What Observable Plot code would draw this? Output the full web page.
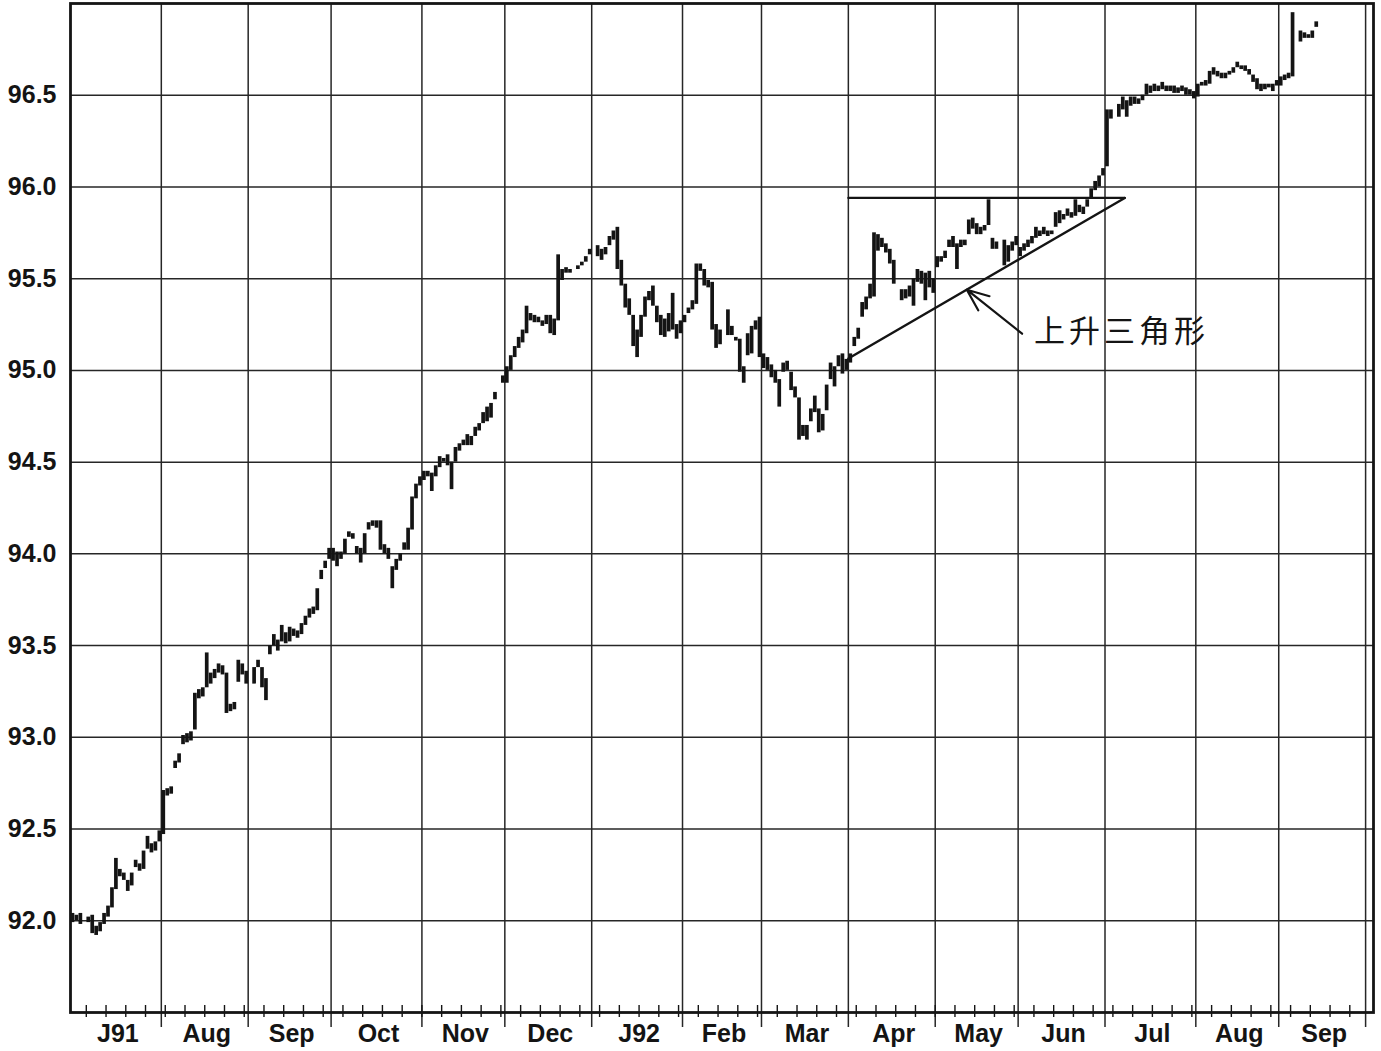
<!DOCTYPE html>
<html><head><meta charset="utf-8">
<script src="https://cdn.jsdelivr.net/npm/d3@7"></script>
<script src="https://cdn.jsdelivr.net/npm/@observablehq/plot@0.6"></script>
<style>
html,body{margin:0;padding:0;background:#fff;}
#chart svg{display:block;}
</style></head><body><div id="chart"></div>
<script>
// ---- categories / ticks ----
const months = ["1991-07","1991-08","1991-09","1991-10","1991-11","1991-12","1992-01","1992-02","1992-03","1992-04","1992-05","1992-06","1992-07","1992-08","1992-09"];
const monthLabels = ["J91","Aug","Sep","Oct","Nov","Dec","J92","Feb","Mar","Apr","May","Jun","Jul","Aug","Sep"];
const axisEnd = "1992-10-01";
const holidays = ["1991-07-04","1991-09-02","1991-11-28","1991-12-25","1992-01-01","1992-02-17","1992-04-17","1992-05-25","1992-07-03","1992-09-07"];
const yTicks = [92.0, 92.5, 93.0, 93.5, 94.0, 94.5, 95.0, 95.5, 96.0, 96.5];

// ---- daily bars [low, high], one array per month, in trading-day order ----
const jul91 = [[91.99,92.04],[92.00,92.03],[91.98,92.04],[91.99,92.02],[91.93,92.03],[91.92,91.97],[91.94,91.99],[91.98,92.04],[92.02,92.08],[92.07,92.18],[92.17,92.34],[92.24,92.28],[92.22,92.26],[92.16,92.22],[92.19,92.26],[92.29,92.33],[92.27,92.31],[92.28,92.38],[92.39,92.46],[92.37,92.42],[92.38,92.43],[92.43,92.49]];
const aug91 = [[92.47,92.71],[92.68,92.72],[92.69,92.73],[92.83,92.87],[92.86,92.91],[92.96,93.01],[92.97,93.02],[92.98,93.03],[93.04,93.24],[93.21,93.26],[93.22,93.27],[93.27,93.46],[93.29,93.35],[93.32,93.37],[93.35,93.40],[93.34,93.39],[93.13,93.35],[93.14,93.18],[93.15,93.19],[93.30,93.42],[93.34,93.40],[93.29,93.36]];
const sep91 = [[93.29,93.38],[93.38,93.42],[93.27,93.38],[93.20,93.32],[93.45,93.50],[93.50,93.56],[93.47,93.53],[93.52,93.61],[93.51,93.57],[93.52,93.60],[93.55,93.59],[93.54,93.58],[93.56,93.62],[93.61,93.66],[93.65,93.70],[93.67,93.71],[93.69,93.81],[93.86,93.91],[93.92,93.96],[93.97,94.03]];
const oct91 = [[93.96,94.03],[93.93,94.01],[93.97,94.01],[94.00,94.08],[94.09,94.12],[94.08,94.11],[94.00,94.04],[93.95,94.03],[94.00,94.11],[94.13,94.17],[94.15,94.18],[94.14,94.18],[94.02,94.18],[94.00,94.05],[93.97,94.03],[93.81,93.93],[93.91,93.97],[93.96,94.00],[94.02,94.06],[94.02,94.14],[94.13,94.31],[94.30,94.38],[94.37,94.42]];
const nov91 = [[94.40,94.45],[94.42,94.45],[94.34,94.44],[94.42,94.48],[94.47,94.53],[94.50,94.52],[94.48,94.54],[94.35,94.50],[94.50,94.58],[94.56,94.60],[94.59,94.62],[94.59,94.65],[94.59,94.64],[94.64,94.69],[94.67,94.71],[94.71,94.77],[94.72,94.80],[94.74,94.82],[94.84,94.88],[94.93,94.97]];
const dec91 = [[94.93,95.02],[95.00,95.08],[95.07,95.13],[95.12,95.18],[95.15,95.22],[95.20,95.35],[95.27,95.31],[95.26,95.30],[95.26,95.29],[95.24,95.27],[95.25,95.30],[95.20,95.30],[95.19,95.28],[95.27,95.63],[95.49,95.55],[95.53,95.56],[95.53,95.55],[95.55,95.57],[95.57,95.59],[95.59,95.62],[95.63,95.66]];
const jan92 = [[95.62,95.68],[95.60,95.66],[95.63,95.67],[95.68,95.73],[95.71,95.76],[95.55,95.78],[95.46,95.60],[95.34,95.47],[95.30,95.39],[95.13,95.30],[95.07,95.22],[95.18,95.30],[95.29,95.40],[95.38,95.43],[95.35,95.46],[95.26,95.35],[95.19,95.30],[95.18,95.28],[95.21,95.31],[95.22,95.42],[95.17,95.25],[95.20,95.27]];
const feb92 = [[95.26,95.30],[95.31,95.34],[95.33,95.38],[95.36,95.58],[95.54,95.58],[95.46,95.55],[95.45,95.49],[95.22,95.48],[95.12,95.25],[95.14,95.22],[95.19,95.33],[95.19,95.24],[95.16,95.18],[94.99,95.17],[94.93,95.02],[95.08,95.20],[95.09,95.24],[95.22,95.27],[95.07,95.29]];
const mar92 = [[95.01,95.09],[95.00,95.07],[94.96,95.03],[94.93,95.00],[94.80,94.95],[94.99,95.04],[95.00,95.05],[94.89,94.99],[94.85,94.91],[94.62,94.85],[94.64,94.70],[94.62,94.70],[94.72,94.79],[94.77,94.86],[94.66,94.79],[94.67,94.76],[94.78,94.92],[94.95,95.04],[94.91,95.02],[95.02,95.08],[94.98,95.09],[95.00,95.06]];
const apr92 = [[95.04,95.09],[95.13,95.18],[95.17,95.23],[95.29,95.37],[95.33,95.40],[95.39,95.47],[95.40,95.75],[95.65,95.74],[95.67,95.72],[95.64,95.69],[95.58,95.66],[95.47,95.60],[95.38,95.44],[95.39,95.44],[95.40,95.46],[95.35,95.50],[95.48,95.55],[95.47,95.54],[95.38,95.53],[95.45,95.54],[95.42,95.50]];
const may92 = [[95.56,95.62],[95.59,95.62],[95.61,95.65],[95.67,95.71],[95.67,95.73],[95.55,95.69],[95.67,95.71],[95.68,95.71],[95.74,95.82],[95.77,95.83],[95.74,95.80],[95.74,95.78],[95.76,95.79],[95.79,95.93],[95.66,95.72],[95.66,95.70],[95.57,95.71],[95.59,95.68],[95.65,95.70],[95.68,95.73]];
const jun92 = [[95.62,95.67],[95.65,95.69],[95.67,95.71],[95.69,95.73],[95.72,95.78],[95.73,95.76],[95.74,95.78],[95.73,95.76],[95.74,95.76],[95.78,95.86],[95.80,95.87],[95.82,95.85],[95.84,95.88],[95.83,95.86],[95.84,95.93],[95.86,95.90],[95.85,95.89],[95.89,95.93],[95.94,95.99],[95.98,96.03],[96.00,96.06],[96.06,96.10]];
const jul92 = [[96.11,96.42],[96.37,96.42],[96.38,96.45],[96.42,96.49],[96.38,96.47],[96.44,96.49],[96.45,96.49],[96.45,96.48],[96.47,96.50],[96.50,96.56],[96.51,96.55],[96.52,96.56],[96.52,96.55],[96.53,96.57],[96.52,96.55],[96.52,96.55],[96.51,96.55],[96.51,96.54],[96.52,96.55],[96.50,96.54],[96.50,96.53],[96.48,96.52]];
const aug92 = [[96.49,96.56],[96.55,96.57],[96.55,96.58],[96.56,96.63],[96.61,96.65],[96.60,96.63],[96.59,96.62],[96.59,96.62],[96.61,96.63],[96.62,96.65],[96.65,96.68],[96.64,96.66],[96.63,96.66],[96.61,96.64],[96.57,96.61],[96.53,96.59],[96.52,96.56],[96.53,96.56],[96.54,96.56],[96.52,96.56],[96.55,96.58]];
const sep92 = [[96.55,96.60],[96.58,96.61],[96.59,96.62],[96.60,96.95],[96.79,96.85],[96.81,96.84],[96.81,96.83],[96.81,96.85],[96.87,96.90]];
const monthBars = [jul91,aug91,sep91,oct91,nov91,dec91,jan92,feb92,mar92,apr92,may92,jun92,jul92,aug92,sep92];

// ---- annotation (ascending triangle) ----
const triangleTop = [{date:"1992-04-01", value:95.94},{date:"1992-07-08", value:95.94}];
const triangleBase = [{date:"1992-04-01", value:95.065},{date:"1992-07-08", value:95.94}];
const arrowSpec = [{from:"1992-06-02", fromValue:95.20, to:"1992-05-13", toValue:95.44}];
const labelSpec = [{date:"1992-06-05", value:95.21, text:"上升三角形"}];

// ---- weekday (5-day week) position scale ----
const parse = d3.utcParse("%Y-%m-%d");
const fmt = d3.utcFormat("%Y-%m-%d");
const origin = parse(months[0] + "-01");
function wd(d){ const n = Math.round((d - origin)/864e5); const w = Math.floor(n/7); return w*5 + Math.min(n - 7*w, 5); }
const holidaySet = new Set(holidays);
const bars = [];
months.forEach((m, k) => {
  const start = parse(m + "-01"), end = d3.utcMonth.offset(start, 1);
  const days = d3.utcDay.range(start, end).filter(d => d.getUTCDay() % 6 !== 0 && !holidaySet.has(fmt(d)));
  monthBars[k].forEach(([lo, hi], i) => { if (days[i]) bars.push({x: wd(days[i]) + 0.5, lo, hi}); });
});
const bounds = months.map(m => wd(parse(m + "-01"))).concat([wd(parse(axisEnd))]);
const mids = months.map((m, k) => (bounds[k] + bounds[k+1]) / 2);
const labelMap = new Map(mids.map((v, k) => [v, monthLabels[k]]));
const fridays = d3.utcFriday.range(origin, parse(axisEnd)).map(wd);

const W = 1381, H = 1051, mL = 70, mR = 8, mT = 3, mB = 39;
const innerH = H - mT - mB;
const ink = "#141414";

const chart = Plot.plot({
  width: W, height: H,
  marginLeft: mL, marginRight: mR, marginTop: mT, marginBottom: mB,
  style: {fontFamily: '"Liberation Sans", Arial, sans-serif', background: "#fff", color: ink, fontWeight: "bold"},
  x: {type: "linear", domain: [0, 330], axis: null},
  y: {domain: [91.5, 97], axis: null},
  marks: [
    Plot.ruleY(yTicks, {stroke: "#262626", strokeWidth: 1.5}),
    Plot.ruleX(bounds.slice(1), {stroke: "#262626", strokeWidth: 1.5, insetBottom: -15}),
    Plot.ruleX(fridays, {stroke: ink, strokeWidth: 1.4, insetTop: innerH - 7, insetBottom: -5}),
    Plot.axisY(yTicks, {anchor: "left", label: null, tickSize: 0, tickPadding: 14, tickFormat: d => d.toFixed(1), fontSize: 25, fontWeight: "bold"}),
    Plot.axisX(mids, {anchor: "bottom", label: null, tickSize: 0, tickPadding: 12, tickFormat: d => labelMap.get(d), fontSize: 25, fontWeight: "bold", dx: 2}),
    Plot.frame({stroke: ink, strokeWidth: 2.8}),
    Plot.ruleX(bars, {x: "x", y1: "lo", y2: "hi", stroke: ink, strokeWidth: 3.7}),
    Plot.line(triangleTop, {x: d => wd(parse(d.date)), y: "value", stroke: ink, strokeWidth: 2.2}),
    Plot.line(triangleBase, {x: d => wd(parse(d.date)), y: "value", stroke: ink, strokeWidth: 2.4}),
    Plot.arrow(arrowSpec, {x1: d => wd(parse(d.from)), y1: "fromValue", x2: d => wd(parse(d.to)), y2: "toValue", stroke: ink, strokeWidth: 2.2, headLength: 18, headAngle: 45}),
    Plot.text(labelSpec, {x: d => wd(parse(d.date)), y: "value", text: "text", textAnchor: "start", fontSize: 31, fontWeight: "normal", fontFamily: '"Noto Sans CJK SC", sans-serif', fill: ink})
  ]
});
chart.querySelectorAll("text").forEach(t => { if (t.textContent === labelSpec[0].text) t.style.letterSpacing = "4px"; });
document.getElementById("chart").appendChild(chart);
</script></body></html>
